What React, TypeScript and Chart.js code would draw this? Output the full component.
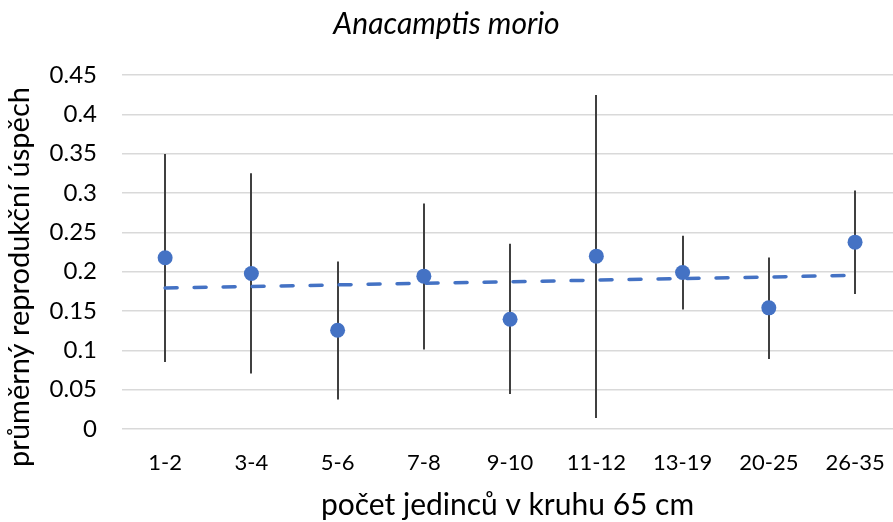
import React, { useEffect, useRef } from "react";
import { Chart, registerables } from "chart.js";

Chart.register(...registerables);

const categories = ["1-2", "3-4", "5-6", "7-8", "9-10", "11-12", "13-19", "20-25", "26-35"];
const meanSuccess = [0.2176, 0.1977, 0.1256, 0.1943, 0.1396, 0.2197, 0.199, 0.154, 0.2375];
const upperBound = [0.3495, 0.325, 0.213, 0.2868, 0.2354, 0.4246, 0.2456, 0.218, 0.3033];
const lowerBound = [0.0853, 0.0705, 0.0374, 0.101, 0.0445, 0.014, 0.152, 0.089, 0.1717];

const chartTitle = "Anacamptis morio";
const xTitle = "počet jedinců v kruhu 65 cm";
const yTitle = "průměrný reprodukční úspěch";

const FONT = "Lato, 'Open Sans', sans-serif";
const BLUE = "#4472C4";

// least-squares trend through the category means
function linearTrend(ys: number[]) {
  const n = ys.length;
  const xs = ys.map((_, i) => i + 1);
  const mx = xs.reduce((a, b) => a + b, 0) / n;
  const my = ys.reduce((a, b) => a + b, 0) / n;
  let sxy = 0;
  let sxx = 0;
  for (let i = 0; i < n; i++) {
    sxy += (xs[i] - mx) * (ys[i] - my);
    sxx += (xs[i] - mx) ** 2;
  }
  const slope = sxy / sxx;
  const icpt = my - slope * mx;
  return [
    { x: 1, y: icpt + slope },
    { x: n, y: icpt + slope * n },
  ];
}

// vertical min–max whiskers behind the markers
const errorBars = {
  id: "errorBars",
  beforeDatasetsDraw(chart: any) {
    const { ctx, scales } = chart;
    const xs = scales.x;
    const ys = scales.y;
    ctx.save();
    ctx.strokeStyle = "#404040";
    ctx.lineWidth = 2;
    for (let i = 0; i < categories.length; i++) {
      const px = Math.round(xs.getPixelForValue(i + 1));
      ctx.beginPath();
      ctx.moveTo(px, ys.getPixelForValue(upperBound[i]));
      ctx.lineTo(px, ys.getPixelForValue(lowerBound[i]));
      ctx.stroke();
    }
    ctx.restore();
  },
};

// rotated value-axis caption, sitting a little low like the original layout
const yCaption = {
  id: "yCaption",
  afterDraw(chart: any) {
    const { ctx, chartArea } = chart;
    ctx.save();
    ctx.translate(chartArea.left - 102, chartArea.top + 202);
    ctx.rotate(-Math.PI / 2);
    ctx.fillStyle = "#000";
    ctx.font = `29px ${FONT}`;
    ctx.textAlign = "center";
    ctx.textBaseline = "middle";
    ctx.fillText(yTitle, 0, 0);
    ctx.restore();
  },
};

export default function App() {
  const ref = useRef<HTMLCanvasElement>(null);

  useEffect(() => {
    if (!ref.current) return;
    const chart = new Chart(ref.current, {
      type: "scatter",
      data: {
        datasets: [
          {
            type: "line",
            data: linearTrend(meanSuccess),
            borderColor: BLUE,
            borderWidth: 3.5,
            borderDash: [12, 17],
            borderCapStyle: "round",
            pointRadius: 0,
            fill: false,
            order: 0,
          } as any,
          {
            data: meanSuccess.map((v, i) => ({ x: i + 1, y: v })),
            backgroundColor: BLUE,
            borderColor: BLUE,
            pointRadius: 7.5,
            pointHoverRadius: 7.5,
            borderWidth: 0,
            order: 1,
          },
        ],
      },
      options: {
        animation: false,
        responsive: false,
        layout: { padding: 0, autoPadding: false },
        plugins: {
          legend: { display: false },
          tooltip: { enabled: false },
          title: {
            display: true,
            text: chartTitle,
            color: "#000",
            font: { family: FONT, size: 30, style: "italic", weight: "normal", lineHeight: 1.2 },
            padding: { top: 6, bottom: 33 },
          },
        },
        scales: {
          x: {
            type: "linear",
            min: 0.5,
            max: 9.44,
            afterBuildTicks: (scale: any) => {
              scale.ticks = categories.map((_, i) => ({ value: i + 1 }));
            },
            afterFit: (scale: any) => {
              scale.height = 93;
              scale.paddingLeft = 0;
              scale.paddingRight = 0;
            },
            ticks: {
              autoSkip: false,
              maxRotation: 0,
              color: "#000",
              font: { family: FONT, size: 22, lineHeight: 1.2 },
              padding: 21,
              callback: (v: any) => categories[Math.round(Number(v)) - 1] ?? "",
            },
            grid: { display: false, drawTicks: false },
            border: { display: false },
            title: {
              display: true,
              text: xTitle,
              color: "#000",
              font: { family: FONT, size: 30, lineHeight: 1.2 },
              padding: { top: 0, bottom: -1 },
            },
          },
          y: {
            min: 0,
            max: 0.45,
            afterFit: (scale: any) => {
              scale.width = 122;
            },
            ticks: {
              stepSize: 0.05,
              color: "#000",
              font: { family: FONT, size: 24 },
              padding: 25,
              callback: (v: any) => String(Number(Number(v).toFixed(2))),
            },
            grid: { color: "#d9d9d9", lineWidth: 1.5, drawTicks: false },
            border: { display: false },
          },
        },
      },
      plugins: [errorBars, yCaption],
    });
    return () => chart.destroy();
  }, []);

  return (
    <div style={{ position: "fixed", left: 0, top: 0, width: 893, height: 522, background: "#fff" }}>
      <canvas ref={ref} width={893} height={522} />
    </div>
  );
}
